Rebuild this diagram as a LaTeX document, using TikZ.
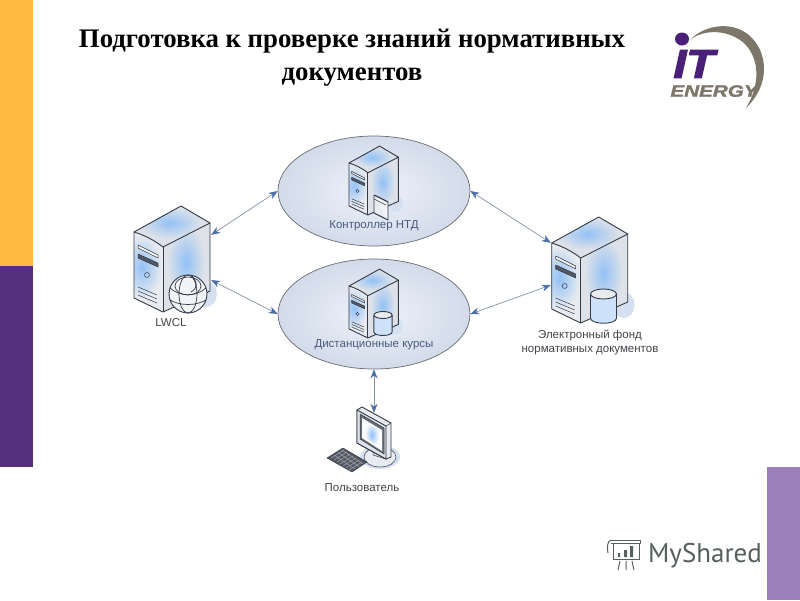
\documentclass[tikz,border=0pt]{standalone}
\usepackage{fontspec}
\setmainfont{Liberation Sans}
\newfontfamily\titlefont{Liberation Serif}
\newfontfamily\ptfont{PT Sans}
\newfontfamily\logofont[UprightFont=* Bold Italic,FakeBold=3]{Liberation Sans}
\newfontfamily\logofontb[UprightFont=* Bold Italic,FakeBold=1.5]{Liberation Sans}
\usetikzlibrary{arrows.meta,shapes.geometric}
\definecolor{barY}{HTML}{FDBB42}
\definecolor{barP}{HTML}{54307F}
\definecolor{barL}{HTML}{9B7FB8}
\definecolor{srvline}{HTML}{333A48}
\definecolor{glow}{HTML}{93C1F6}
\definecolor{faceA}{HTML}{E8EBEF}
\definecolor{faceB}{HTML}{DEE2E8}
\definecolor{arrowtip}{HTML}{4A6DA8}
\definecolor{arrowline}{HTML}{8492A8}
\definecolor{inlabel}{HTML}{4B5B80}
\definecolor{outlabel}{HTML}{404448}
\definecolor{logoP}{HTML}{4A1F78}
\definecolor{logoG}{HTML}{7D776A}
\definecolor{msh}{HTML}{56605E}
\definecolor{cloudin}{HTML}{EDF3FC}
\definecolor{cloudout}{HTML}{D3DBE9}
\definecolor{shadowc}{HTML}{D5E1F1}
\tikzset{
  x=1pt,y=-1pt,
  bar/.style={fill=#1,draw=none},
  cloud/.style={ellipse,draw=srvline!75,line width=0.7pt,minimum width=192pt,minimum height=110pt,inner sep=0pt,inner color=cloudin,outer color=cloudout},
  link/.style={{Stealth[length=9pt,width=7pt,color=arrowtip]}-{Stealth[length=9pt,width=7pt,color=arrowtip]},draw=arrowline,line width=0.7pt},
  inlab/.style={text=inlabel,font=\fontsize{11.5}{14}\selectfont,inner sep=0pt},
  outlab/.style={text=outlabel,font=\fontsize{11.5}{14}\selectfont,inner sep=0pt},
  srv/.style={draw=srvline,line width=0.9pt,line join=round},
  srvthin/.style={draw=srvline,line width=0.5pt,line join=round},
  pics/server/.style={code={
    \fill[fill=shadowc] (72,62) ellipse (11 and 13);
    \begin{scope}
      \clip (0,0) -- (47,-26) -- (76,-9) -- (29,15) -- cycle;
      \fill[faceB] (-5,-30) rectangle (80,20);
      \shade[inner color=glow,outer color=faceB] (36,-9) ellipse (32 and 16);
    \end{scope}
    \begin{scope}
      \clip (0,0) -- (29,15) -- (29,80) -- (0,66) -- cycle;
      \fill[faceA] (-2,-2) rectangle (32,82);
      \shade[inner color=glow,outer color=faceA] (8,35) ellipse (20 and 32);
    \end{scope}
    \begin{scope}
      \clip (29,15) -- (76,-9) -- (76,59) -- (29,80) -- cycle;
      \fill[faceB] (27,-10) rectangle (78,82);
      \shade[inner color=glow,outer color=faceB] (52,30) ellipse (19 and 36);
    \end{scope}
    \draw[srv] (0,0) -- (47,-26) -- (76,-9) -- (76,59) -- (29,80) -- (0,66) -- cycle;
    \draw[srv] (0,0) .. controls (10,3) and (20,8) .. (29,15) -- (76,-9);
    \draw[srv] (29,15) -- (29,80);
    \draw[srvthin,fill=white!70!faceA] (4,13) -- (24,23) -- (24,26) -- (4,16) -- cycle;
    \draw[srvthin,fill=srvline!85] (4,22) -- (24,31) -- (24,35) -- (4,26) -- cycle;
    \draw[srvthin] (13,43) circle (2.5);
    \draw[srvthin] (4,55) -- (23,63) (4,59) -- (23,67) (4,63) -- (23,71);
  }},
  pics/drum/.style={code={
    \fill[glow!45!white] (-13,0) -- (-13,24) .. controls (-13,31) and (13,31) .. (13,24) -- (13,0) -- cycle;
    \draw[srv] (-13,0) -- (-13,24) .. controls (-13,31) and (13,31) .. (13,24) -- (13,0);
    \draw[srv,fill=faceA] (0,0) ellipse (13 and 5);
  }}
}
\begin{document}
\begin{tikzpicture}
\useasboundingbox (0,0) rectangle (800,600);
\fill[white] (0,0) rectangle (800,600);
\fill[bar=barY] (0,0) rectangle (33,266);
\fill[bar=barP] (0,266) rectangle (33,467);
\fill[bar=barL] (767,467) rectangle (800,600);

\node[inner sep=0pt,align=center,font=\titlefont\bfseries\fontsize{26.8}{33}\selectfont,text=black] (title) at (352,58) {Подготовка к проверке знаний нормативных\\документов};

% logo
\fill[logoG] (690,40) .. controls (705,24) and (735,20) .. (752,38) .. controls (768,55) and (770,85) .. (746,108) .. controls (760,85) and (760,60) .. (745,44) .. controls (730,30) and (705,28) .. (690,40) -- cycle;
\fill[logoP] (682,39) ellipse (7 and 6.5);
\node[inner sep=0pt,text=logoP,xscale=1.15,font=\logofont\fontsize{40}{40}\selectfont] (logoit) at (694,64) {IT};
\node[inner sep=0pt,text=logoG,xscale=1.25,font=\logofontb\fontsize{16.5}{17}\selectfont] (logoen) at (714,91) {ENERGY};

% ellipses
\node[cloud] (ctrl) at (374,191) {};
\node[cloud] (courses) at (374,314) {};

% servers
\pic[shift={(134,232)}] {server};
\pic[shift={(551.7,243)}] {server};
\pic[shift={(349,163)},scale=0.65] {server};
\pic[shift={(349,286)},scale=0.65] {server};

% named end points on the servers
\node[inner sep=0pt,minimum size=0pt] (lwclA) at (211,235) {};
\node[inner sep=0pt,minimum size=0pt] (lwclB) at (211,280) {};
\node[inner sep=0pt,minimum size=0pt] (fundA) at (551,243) {};
\node[inner sep=0pt,minimum size=0pt] (fundB) at (551,285) {};
\node[inner sep=0pt,minimum size=0pt] (userA) at (374,413) {};

% globe
\begin{scope}[shift={(188,294)}]
  \fill[white!60!faceB] (0,0) circle (19);
  \draw[srv] (0,0) circle (19);
  \draw[srvthin,line width=0.7pt] (0,0) ellipse (9 and 19);
  \draw[srvthin,line width=0.7pt] (0,-8) ellipse (13 and 9);
  \draw[srvthin,line width=0.7pt] (-18,-6) .. controls (-8,3) and (8,3) .. (18,-6);
  \draw[srvthin,line width=0.7pt] (-18,6) .. controls (-8,12) and (8,12) .. (18,6);
  \draw[srvthin,line width=0.7pt] (3,-19) .. controls (10,-12) and (10,-6) .. (3,-2);
\end{scope}

% folder on controller server
\draw[srv,fill=faceA] (374,195) -- (386,201) -- (386,219) -- (374,213) -- cycle;
\draw[srv,fill=white!40!faceA] (376,196) -- (388,202) -- (388,220) -- (386,219);
\draw[srvthin] (374,199) -- (386,205);

% drums
\pic[shift={(383,315)},scale=0.7] {drum};
\pic[shift={(603.5,294)}] {drum};

% monitor
\fill[shadowc] (380,457) ellipse (20 and 12);
\draw[srvthin,fill=faceA] (380,457) ellipse (16 and 10);
\fill[faceB,draw=srvline,line width=0.5pt] (373,445) -- (386,450) -- (386,459) -- (373,455) -- cycle;
\draw[srv,fill=faceA] (357,410) -- (362,407) -- (391,423) -- (391,457) -- (386,459) -- (357,443) -- cycle;
\draw[srv,fill=faceB] (357,410) -- (386,426) -- (386,459) -- (357,443) -- cycle;
\draw[srvthin,fill=srvline!75] (360,414) -- (384,428) -- (384,454) -- (360,439) -- cycle;
\fill[white!85!faceA] (362,418) -- (382,430) -- (382,451) -- (362,438) -- cycle;
\shade[inner color=glow,outer color=white!85!faceA] (365,422) -- (379,431) -- (379,447) -- (365,437) -- cycle;
\draw[srvthin] (391,423) -- (386,426);

% keyboard
\draw[srvthin,fill=srvline!85] (327,458) -- (343,448) -- (367,462) -- (352,472) -- cycle;
\draw[white!50!srvline,line width=0.6pt] (331,458) -- (344,450) (334,460) -- (347,452) (337,462) -- (350,454) (340,464) -- (353,456) (343,466) -- (356,458) (346,468) -- (359,460) (349,470) -- (362,462);
\draw[white!50!srvline,line width=0.6pt] (334,455) -- (355,469) (338,452.5) -- (359,466.5) (342,450) -- (363,464);

% labels
\node[outlab] (lwcl) at (171,323) {LWCL};
\node[inlab] (lctrl) at (374,226) {Контроллер НТД};
\node[inlab] (lcourses) at (374,345) {Дистанционные курсы};
\node[outlab,align=center,font=\fontsize{11.5}{14}\selectfont] (fund) at (590,342) {Электронный фонд\\нормативных документов};
\node[outlab] (user) at (362,488) {Пользователь};

% connectors
\draw[link] (lwclA) -- (ctrl.west);
\draw[link] (lwclB) -- (courses.west);
\draw[link] (ctrl.east) -- (fundA);
\draw[link] (courses.east) -- (fundB);
\draw[link] (courses.south) -- (userA);

% MyShared
\begin{scope}[draw=msh,line width=1pt]
  \draw (611,540) -- (640,540) -- (640,543) -- (611,543);
  \draw (611,540) .. controls (607,541) and (607,548) .. (608,553);
  \draw (613,543) -- (613,559) -- (639,559) -- (639,543);
  \fill[msh] (618,553) rectangle (620,557) (624,550) rectangle (627,557) (630,546) rectangle (633,557);
  \draw (620,561) -- (618,570) (626,561) -- (626,570) (632,561) -- (634,570);
\end{scope}
\node[inner sep=0pt,text=msh,font=\ptfont\fontsize{27}{30}\selectfont] (mysh) at (705,556) {MyShared};
\end{tikzpicture}
\end{document}
